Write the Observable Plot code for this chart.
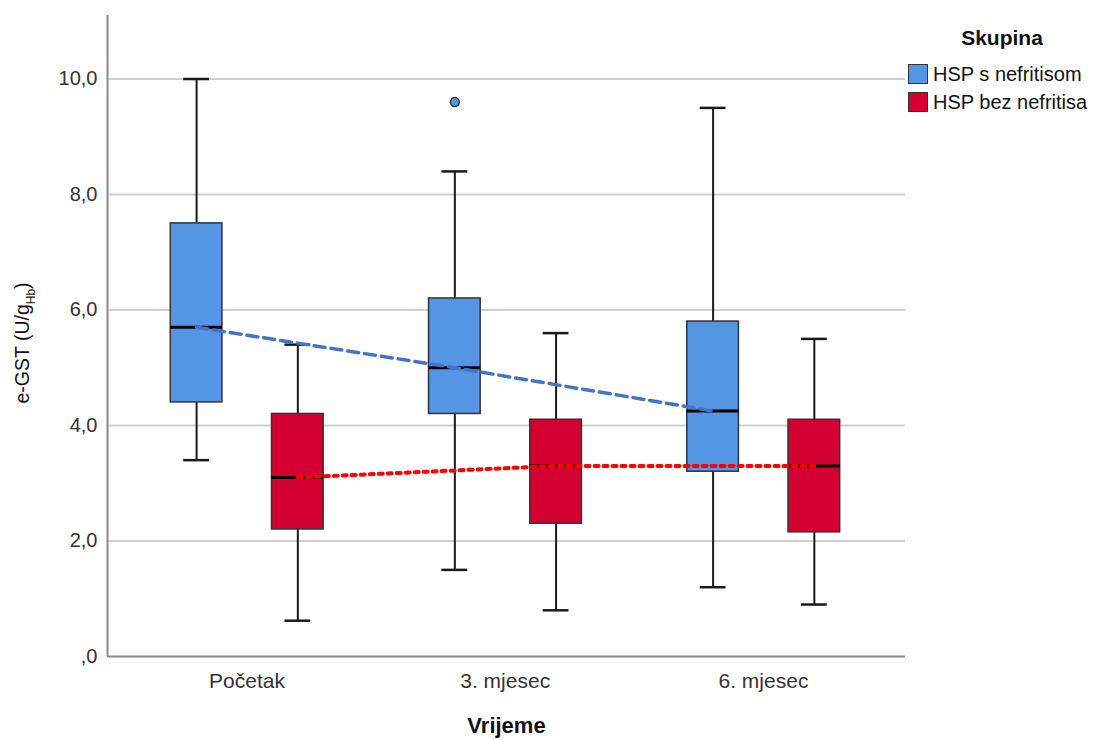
<!DOCTYPE html>
<html>
<head>
<meta charset="utf-8">
<script src="https://cdn.jsdelivr.net/npm/d3@7"></script>
<script src="https://cdn.jsdelivr.net/npm/@observablehq/plot@0.6"></script>
<style>
  html, body { margin: 0; padding: 0; background: #fff; }
  #wrap { position: relative; width: 1097px; height: 740px; font-family: "Liberation Sans", Arial, sans-serif; overflow: hidden; }
  #legend { position: absolute; left: 0; top: 0; color: #111; }
  #legend .title { position: absolute; left: 952px; top: 25px; width: 100px; text-align: center; font-weight: bold; font-size: 21px; line-height: 26px; }
  #legend .item { position: absolute; left: 908px; display: flex; align-items: center; font-size: 20px; height: 22px; white-space: nowrap; }
  #legend .sw { width: 20px; height: 20px; border: 1.5px solid #333; margin-right: 5px; box-sizing: border-box; }
</style>
</head>
<body>
<div id="wrap">
  <div id="chart"></div>
  <div id="legend"></div>
</div>
<script>
const categories = ["Početak", "3. mjesec", "6. mjesec"];
const groups = ["HSP s nefritisom", "HSP bez nefritisa"];
const groupColors = ["#5596E4", "#D50032"];

// HSP s nefritisom
const nefMin    = [3.4, 1.5, 1.2];
const nefQ1     = [4.4, 4.2, 3.2];
const nefMedian = [5.7, 5.0, 4.25];
const nefQ3     = [7.5, 6.2, 5.8];
const nefMax    = [10.0, 8.4, 9.5];

// HSP bez nefritisa
const bezMin    = [0.62, 0.8, 0.9];
const bezQ1     = [2.2, 2.3, 2.15];
const bezMedian = [3.1, 3.3, 3.3];
const bezQ3     = [4.2, 4.1, 4.1];
const bezMax    = [5.4, 5.6, 5.5];

// outliers
const outlierCategory = ["3. mjesec"];
const outlierGroup = ["HSP s nefritisom"];
const outlierValue = [9.6];

const yTicks = [0, 2, 4, 6, 8, 10];

// layout parameters (chart construction, not data)
const groupOffset = {"HSP s nefritisom": -0.195, "HSP bez nefritisa": 0.197};
const boxHalf = 0.1;
const capHalf = 0.05;

const stats = [
  [nefMin, nefQ1, nefMedian, nefQ3, nefMax],
  [bezMin, bezQ1, bezMedian, bezQ3, bezMax]
];
const rows = [];
groups.forEach((g, gi) => {
  categories.forEach((c, ci) => {
    const [mn, q1, md, q3, mx] = stats[gi];
    rows.push({category: c, group: g, pos: ci + groupOffset[g],
      min: mn[ci], q1: q1[ci], median: md[ci], q3: q3[ci], max: mx[ci]});
  });
});
const outliers = outlierValue.map((v, i) => ({
  group: outlierGroup[i], value: v,
  pos: categories.indexOf(outlierCategory[i]) + groupOffset[outlierGroup[i]]
}));

const fmt = d => d === 0 ? ",0" : d.toFixed(1).replace(".", ",");
const color = {domain: groups, range: groupColors};

const chart = Plot.plot({
  width: 1097,
  height: 740,
  marginLeft: 107,
  marginRight: 192,
  marginTop: 15,
  marginBottom: 84,
  style: {fontFamily: "Liberation Sans, Arial, sans-serif", background: "#fff"},
  x: {domain: [-0.54, 2.55]},
  y: {domain: [0, 11.1]},
  color,
  marks: [
    Plot.gridY(yTicks.filter(d => d > 0), {stroke: "#cfcfcf", strokeOpacity: 1, strokeWidth: 2}),
    Plot.ruleX([-0.54], {stroke: "#8a8a8a", strokeWidth: 2}),
    Plot.ruleY([0], {stroke: "#8a8a8a", strokeWidth: 2}),
    Plot.axisY({ticks: yTicks, tickFormat: fmt, tickSize: 0, tickPadding: 10, fontSize: 20, label: null, fill: "#333"}),
    Plot.axisX({ticks: [0, 1, 2], tickFormat: i => categories[i], tickSize: 0, tickPadding: 17, fontSize: 21, label: null, fill: "#333"}),
    // whiskers
    Plot.ruleX(rows, {x: "pos", y1: "min", y2: "q1", stroke: "#1a1a1a", strokeWidth: 2}),
    Plot.ruleX(rows, {x: "pos", y1: "q3", y2: "max", stroke: "#1a1a1a", strokeWidth: 2}),
    Plot.ruleY(rows, {y: "min", x1: d => d.pos - capHalf, x2: d => d.pos + capHalf, stroke: "#1a1a1a", strokeWidth: 2.5}),
    Plot.ruleY(rows, {y: "max", x1: d => d.pos - capHalf, x2: d => d.pos + capHalf, stroke: "#1a1a1a", strokeWidth: 2.5}),
    // boxes
    Plot.rect(rows, {x1: d => d.pos - boxHalf, x2: d => d.pos + boxHalf, y1: "q1", y2: "q3", fill: "group", stroke: "#333", strokeWidth: 1.5}),
    // medians
    Plot.ruleY(rows, {y: "median", x1: d => d.pos - boxHalf, x2: d => d.pos + boxHalf, stroke: "#000", strokeWidth: 3}),
    // outliers
    Plot.dot(outliers, {x: "pos", y: "value", r: 4.5, fill: "group", stroke: "#333", strokeWidth: 1.5}),
    // median trend lines
    Plot.line(rows.filter(d => d.group === groups[0]), {x: "pos", y: "median", stroke: "#4673C8", strokeWidth: 3.5, strokeDasharray: "11,6"}),
    Plot.line(rows.filter(d => d.group === groups[1]), {x: "pos", y: "median", stroke: "#FF0000", strokeWidth: 4, strokeDasharray: "4,5"}),
    // x axis title
    Plot.text(["Vrijeme"], {frameAnchor: "bottom", dy: 76, fontSize: 22, fontWeight: "bold", fill: "#111"})
  ]
});
document.getElementById("chart").appendChild(chart);

// y axis title with subscript
const svg = d3.select(chart);
const t = svg.append("text")
  .attr("transform", "translate(29,343) rotate(-90)")
  .attr("text-anchor", "middle")
  .attr("font-size", 19.5)
  .attr("fill", "#111")
  .attr("font-family", "Liberation Sans, Arial, sans-serif");
t.append("tspan").text("e-GST (U/g");
t.append("tspan").attr("dy", 6).attr("font-size", 12).text("Hb");
t.append("tspan").attr("dy", -6).text(")");

// legend
const legend = d3.select("#legend");
legend.append("div").attr("class", "title").text("Skupina");
groups.forEach((g, i) => {
  const item = legend.append("div").attr("class", "item").style("top", (63 + 28 * i) + "px");
  item.append("div").attr("class", "sw").style("background", groupColors[i]);
  item.append("span").text(g);
});
</script>
</body>
</html>
